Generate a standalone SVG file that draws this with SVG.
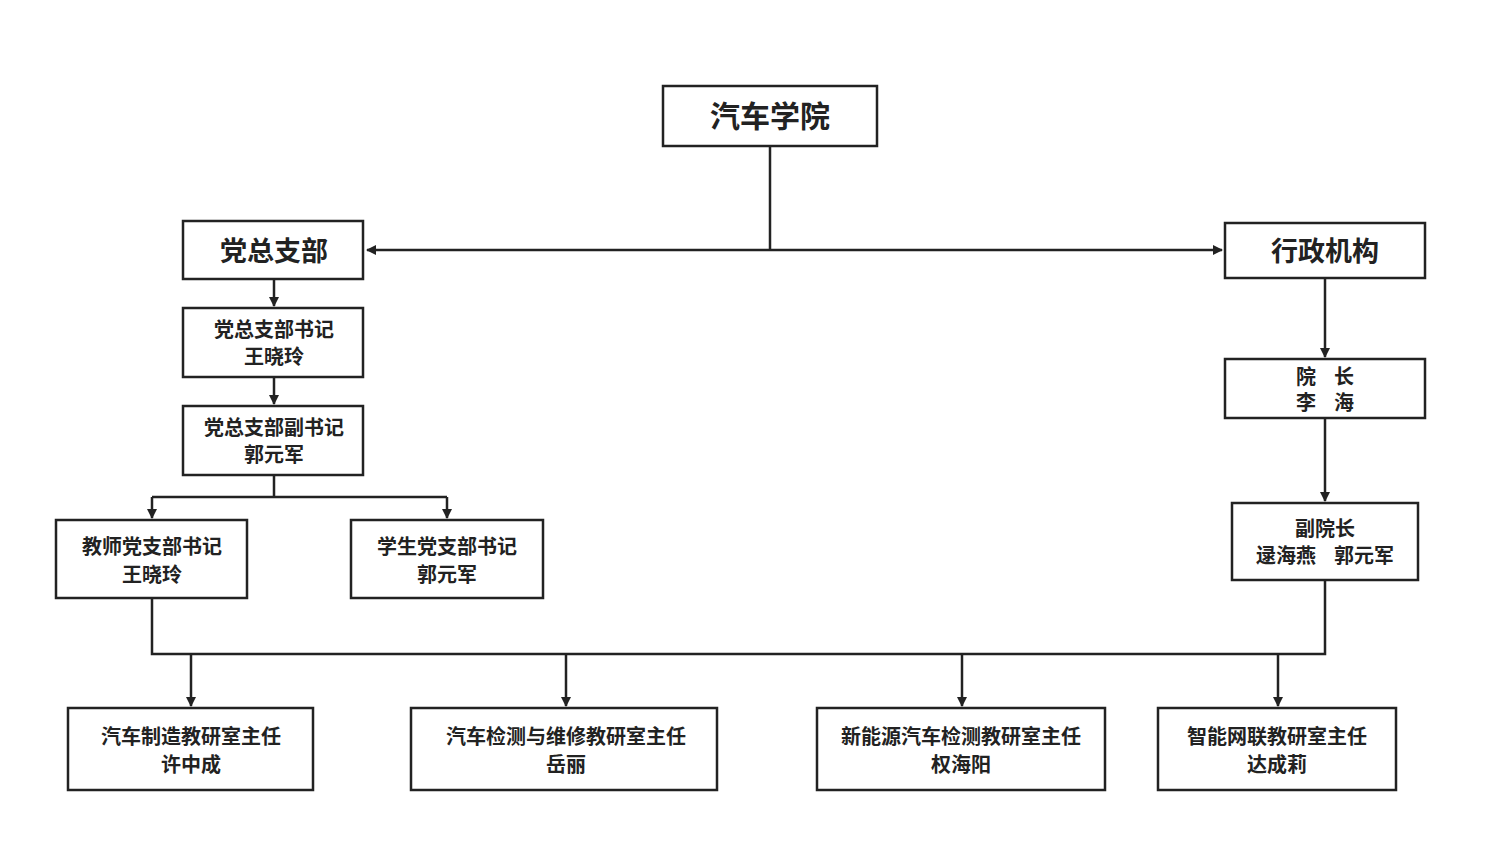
<svg xmlns="http://www.w3.org/2000/svg" width="1500" height="863" viewBox="0 0 1500 863">
<style>
.b{fill:#fff;stroke:#222;stroke-width:2.5}
.t{font-family:"Noto Sans CJK SC",sans-serif;font-weight:bold;fill:#222;text-anchor:middle;font-size:20px}
.h{font-size:30px}
.l{stroke:#222;stroke-width:2.5;fill:none}
</style>
<defs><marker id="a" markerWidth="10" markerHeight="10" refX="9" refY="5" orient="auto" markerUnits="userSpaceOnUse"><path d="M0,0L10,5L0,10z" fill="#222"/></marker></defs>
<rect width="1500" height="863" fill="#fff"/>
<g id="connectors">
<path class="l" d="M770,146V250"/>
<path class="l" d="M770,250H367" marker-end="url(#a)"/>
<path class="l" d="M770,250H1222" marker-end="url(#a)"/>
<path class="l" d="M274,279V306" marker-end="url(#a)"/>
<path class="l" d="M274,377V404" marker-end="url(#a)"/>
<path class="l" d="M274,475V497M152,497H447"/>
<path class="l" d="M152,497V518" marker-end="url(#a)"/>
<path class="l" d="M447,497V518" marker-end="url(#a)"/>
<path class="l" d="M1325,278V357" marker-end="url(#a)"/>
<path class="l" d="M1325,418V501" marker-end="url(#a)"/>
<path class="l" d="M152,598V654H1325V580"/>
<path class="l" d="M191,654V706" marker-end="url(#a)"/>
<path class="l" d="M566,654V706" marker-end="url(#a)"/>
<path class="l" d="M962,654V706" marker-end="url(#a)"/>
<path class="l" d="M1278,654V706" marker-end="url(#a)"/>
</g>
<g id="n0"><rect class="b" x="663" y="86" width="214" height="60"/><text class="t h" x="770" y="127">汽车学院</text></g>
<g id="n1"><rect class="b" x="183" y="221" width="180" height="58"/><text class="t h" x="274" y="261" style="font-size:27px">党总支部</text></g>
<g id="n2"><rect class="b" x="1225" y="223" width="200" height="55"/><text class="t h" x="1325" y="261" style="font-size:27px">行政机构</text></g>
<g id="n3"><rect class="b" x="183" y="308" width="180" height="69"/><text class="t" x="274" y="337">党总支部书记</text><text class="t" x="274" y="364">王晓玲</text></g>
<g id="n4"><rect class="b" x="183" y="406" width="180" height="69"/><text class="t" x="274" y="435">党总支部副书记</text><text class="t" x="274" y="462">郭元军</text></g>
<g id="n5"><rect class="b" x="56" y="520" width="191" height="78"/><text class="t" x="152" y="554">教师党支部书记</text><text class="t" x="152" y="582">王晓玲</text></g>
<g id="n6"><rect class="b" x="351" y="520" width="192" height="78"/><text class="t" x="447" y="554">学生党支部书记</text><text class="t" x="447" y="582">郭元军</text></g>
<g id="n7"><rect class="b" x="1225" y="359" width="200" height="59"/><text class="t" x="1325" y="384" xml:space="preserve">院    长</text><text class="t" x="1325" y="410" xml:space="preserve">李    海</text></g>
<g id="n8"><rect class="b" x="1232" y="503" width="186" height="77"/><text class="t" x="1325" y="536">副院长</text><text class="t" x="1325" y="563" xml:space="preserve">逯海燕    郭元军</text></g>
<g id="n9"><rect class="b" x="68" y="708" width="245" height="82"/><text class="t" x="191" y="744">汽车制造教研室主任</text><text class="t" x="191" y="772">许中成</text></g>
<g id="n10"><rect class="b" x="411" y="708" width="306" height="82"/><text class="t" x="566" y="744">汽车检测与维修教研室主任</text><text class="t" x="566" y="772">岳丽</text></g>
<g id="n11"><rect class="b" x="817" y="708" width="288" height="82"/><text class="t" x="961" y="744">新能源汽车检测教研室主任</text><text class="t" x="961" y="772">权海阳</text></g>
<g id="n12"><rect class="b" x="1158" y="708" width="238" height="82"/><text class="t" x="1277" y="744">智能网联教研室主任</text><text class="t" x="1277" y="772">达成莉</text></g>
</svg>
